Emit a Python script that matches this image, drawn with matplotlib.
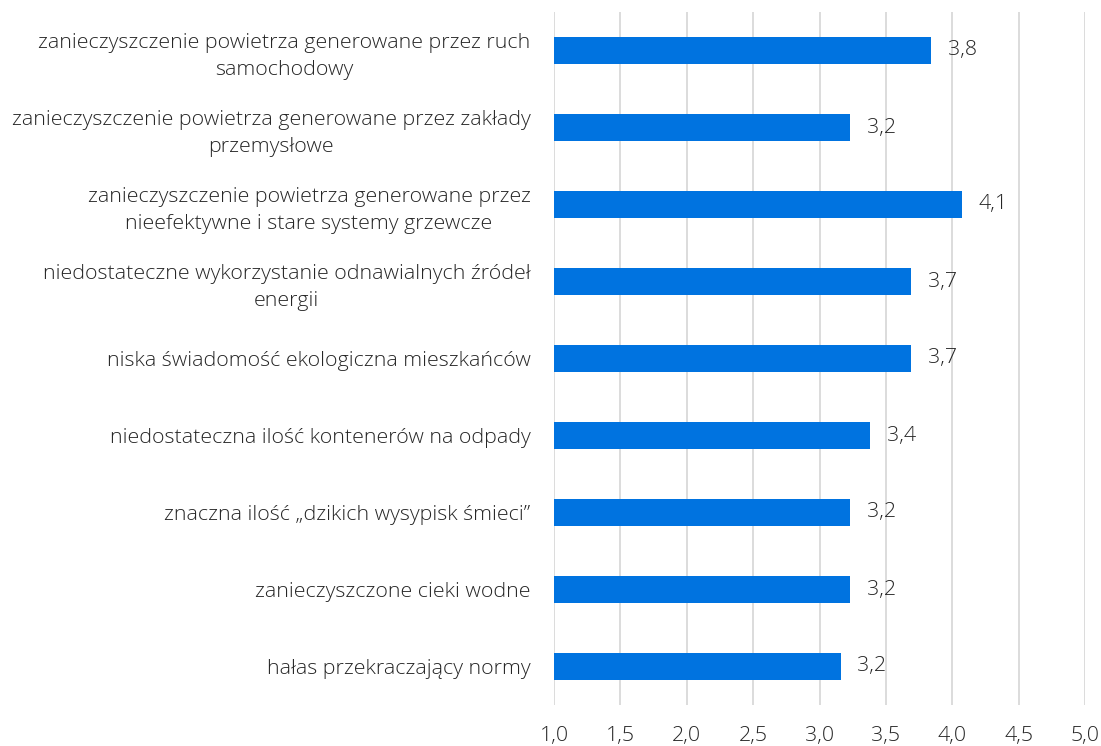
import matplotlib
matplotlib.use("Agg")
import matplotlib.pyplot as plt

categories = [
    "zanieczyszczenie powietrza generowane przez ruch\nsamochodowy",
    "zanieczyszczenie powietrza generowane przez zakłady\nprzemysłowe",
    "zanieczyszczenie powietrza generowane przez\nnieefektywne i stare systemy grzewcze",
    "niedostateczne wykorzystanie odnawialnych źródeł\nenergii",
    "niska świadomość ekologiczna mieszkańców",
    "niedostateczna ilość kontenerów na odpady",
    "znaczna ilość „dzikich wysypisk śmieci”",
    "zanieczyszczone cieki wodne",
    "hałas przekraczający normy",
]
values = [3.84, 3.23, 4.07, 3.69, 3.69, 3.38, 3.23, 3.23, 3.16]
xticks = [1.0, 1.5, 2.0, 2.5, 3.0, 3.5, 4.0, 4.5, 5.0]

plt.rcParams["font.family"] = ["Open Sans", "DejaVu Sans"]
TXT = "#262626"
BAR = "#0073E0"
FS = 15.4

fig = plt.figure(figsize=(11.01, 7.46), dpi=100)
ax = fig.add_axes([554 / 1101, 41 / 746, 531 / 1101, 693 / 746])

ypos = list(range(len(categories)))
ax.barh(ypos, [v - 1.0 for v in values], left=1.0, height=0.35, color=BAR, zorder=3)
for y, v in zip(ypos, values):
    ax.text(v + 0.125, y, f"{v:.1f}".replace(".", ","), va="center", ha="left",
            fontsize=FS, color=TXT, fontweight="light")

ax.set_xlim(1.0, 5.0)
ax.set_ylim(len(categories) - 0.5, -0.5)
ax.set_xticks(xticks)
ax.set_xticklabels([f"{t:.1f}".replace(".", ",") for t in xticks], fontsize=FS,
                   color=TXT, fontweight="light")
ax.set_yticks(ypos)
ax.set_yticklabels(categories, fontsize=FS, color=TXT, fontweight="light",
                   multialignment="center", linespacing=1.45)
ax.tick_params(axis="y", length=0, pad=17)
ax.tick_params(axis="x", length=0, pad=15)
ax.grid(axis="x", color="#D9D9D9", linewidth=1.3, zorder=0)
for s in ax.spines.values():
    s.set_visible(False)

fig.savefig("out.png", dpi=100)
